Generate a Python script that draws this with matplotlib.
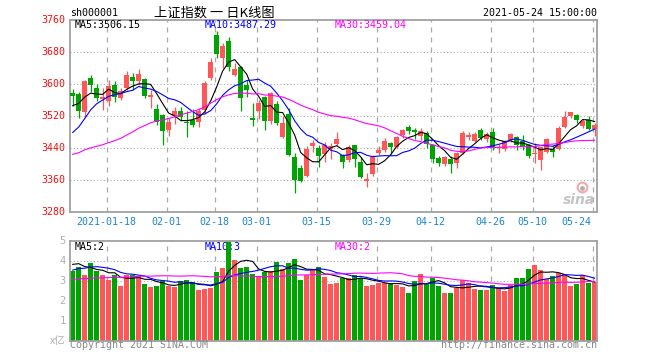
import matplotlib
matplotlib.use("Agg")
import matplotlib.pyplot as plt
import numpy as np
import pandas as pd

# SSE composite daily bars, 2021-01-08 .. 2021-05-24 (88 sessions)
# closes before the window, only used to seed the moving averages
warmup_close = [
    3408.31, 3391.76, 3451.94, 3449.38, 3442.14, 3444.58, 3416.60, 3410.18,
    3371.96, 3373.28, 3347.19, 3369.12, 3367.23, 3366.98, 3404.87, 3394.90,
    3420.57, 3356.78, 3382.32, 3363.11, 3396.56, 3397.29, 3379.04, 3414.45,
    3473.07, 3502.96, 3528.68, 3550.88, 3576.20,
]
warmup_vol = [
    2.9, 3.0, 3.3, 3.1, 2.9, 2.8, 2.9, 2.8, 2.9, 2.7, 2.6, 2.7, 2.6, 2.5, 2.7,
    2.8, 3.0, 3.1, 2.8, 2.7, 2.9, 3.1, 3.3, 3.3, 3.6, 3.5, 4.0, 4.1, 4.0,
]

opens = [
    3577, 3574, 3529, 3614, 3590, 3562, 3557, 3598, 3566, 3590,
    3618, 3608, 3612, 3567, 3537, 3523, 3484, 3519, 3533, 3506,
    3511, 3505, 3534, 3614, 3722, 3666, 3708, 3622, 3642, 3598,
    3516, 3533, 3567, 3507, 3549, 3467, 3525, 3418, 3391, 3369,
    3445, 3441, 3425, 3437, 3450, 3423, 3411, 3447, 3405, 3357,
    3375, 3428, 3435, 3452, 3443, 3472, 3493, 3485, 3470, 3477,
    3447, 3414, 3400, 3413, 3402, 3428, 3468, 3458, 3485, 3462,
    3480, 3439, 3437, 3460, 3468, 3458, 3447, 3424, 3410, 3431,
    3437, 3437, 3493, 3521, 3522, 3496, 3510, 3488,
]
highs = [
    3588, 3580, 3611, 3622, 3600, 3590, 3611, 3607, 3590, 3632,
    3627, 3637, 3614, 3584, 3551, 3525, 3515, 3543, 3542, 3533,
    3538, 3540, 3607, 3665, 3731.69, 3702, 3718, 3652, 3645, 3610,
    3552, 3560, 3570, 3580, 3557, 3521, 3539, 3428, 3397, 3445,
    3460, 3447, 3456, 3452, 3480, 3426, 3447, 3448, 3418, 3378,
    3423, 3446, 3464, 3456, 3470, 3488, 3497, 3490, 3491, 3483,
    3450, 3420, 3420, 3420, 3430, 3482, 3480, 3480, 3490, 3480,
    3490, 3450, 3460, 3478, 3470, 3472, 3450, 3452, 3443, 3465,
    3447, 3494, 3533, 3530, 3525, 3512, 3520, 3502,
]
lows = [
    3546, 3516, 3517, 3580, 3557, 3535, 3545, 3555, 3560, 3585,
    3586, 3598, 3565, 3540, 3497, 3447, 3469, 3500, 3508, 3467,
    3492, 3493, 3524, 3611, 3666, 3640, 3632, 3620, 3532, 3568,
    3494, 3512, 3485, 3500, 3497, 3465, 3419, 3328, 3354, 3367,
    3430, 3393, 3405, 3413, 3446, 3390, 3405, 3393, 3366, 3343,
    3370, 3423, 3430, 3425, 3440, 3466, 3474, 3462, 3460, 3440,
    3403, 3394, 3395, 3378, 3390, 3425, 3460, 3455, 3460, 3455,
    3435, 3428, 3432, 3455, 3435, 3436, 3415, 3402, 3385, 3428,
    3418, 3435, 3490, 3515, 3502, 3490, 3484, 3470,
]
closes = [
    3570.11, 3531.50, 3608.34, 3598.65, 3565.90, 3566.38, 3596.22, 3566.38, 3583.09, 3621.26,
    3606.75, 3624.24, 3569.43, 3573.34, 3505.18, 3483.07, 3505.28, 3533.68, 3517.31, 3501.86,
    3496.33, 3532.44, 3603.49, 3655.09, 3675.36, 3696.17, 3642.44, 3636.36, 3564.08, 3585.05,
    3509.08, 3551.40, 3508.59, 3576.90, 3503.49, 3501.99, 3421.41, 3359.29, 3357.74, 3436.83,
    3453.08, 3419.95, 3446.73, 3445.55, 3463.07, 3404.66, 3443.44, 3411.51, 3367.06, 3363.59,
    3418.33, 3435.30, 3456.68, 3441.91, 3466.33, 3484.39, 3482.48, 3479.63, 3482.56, 3450.68,
    3412.95, 3403.56, 3416.97, 3398.99, 3426.62, 3477.55, 3472.94, 3476.00, 3465.11, 3474.17,
    3441.17, 3442.61, 3457.07, 3474.90, 3446.86, 3441.28, 3418.87, 3427.99, 3441.85, 3462.75,
    3429.54, 3490.38, 3517.62, 3529.01, 3510.96, 3506.94, 3486.56, 3497.28,
]
# volume, 1e8 lots
volumes = [
    3.48, 3.68, 3.28, 3.87, 3.50, 3.28, 3.05, 3.28, 2.73, 3.28,
    3.28, 3.25, 2.82, 2.70, 2.73, 2.97, 2.73, 2.70, 3.00, 3.03,
    2.95, 2.53, 2.58, 2.63, 3.45, 3.62, 5.10, 4.02, 3.65, 3.70,
    3.35, 3.20, 3.43, 3.48, 3.93, 3.57, 3.90, 4.10, 3.03, 3.27,
    3.52, 3.68, 3.20, 2.85, 2.90, 3.15, 3.15, 3.30, 3.15, 2.73,
    2.80, 2.90, 2.90, 2.90, 2.80, 2.70, 2.40, 2.98, 3.35, 2.82,
    3.15, 2.73, 2.40, 2.40, 2.65, 3.02, 2.90, 2.60, 2.53, 2.53,
    2.77, 2.65, 2.48, 2.77, 3.13, 3.13, 3.60, 3.78, 3.53, 3.07,
    3.23, 3.40, 3.32, 2.73, 2.85, 3.27, 2.90, 2.93,
]

date_ticks = [6, 16, 24, 31, 41, 51, 60, 70, 77, 87]
date_labels = ["2021-01-18", "02-01", "02-18", "03-01", "03-15",
               "03-29", "04-12", "04-26", "05-10", "05-24"]
price_ticks = [3760, 3680, 3600, 3520, 3440, 3360, 3280]
vol_ticks = [5, 4, 3, 2, 1]

RED = "#ff5757"
GREEN = "#00a400"
FRAME = "#a0a0a0"
GRID = "#aaaaaa"
MONO = "DejaVu Sans Mono"

W, H = 660, 360
fig = plt.figure(figsize=(W / 100, H / 100), dpi=100)


def fx(px):
    return px / W


def fy(py):
    return 1 - py / H


ax = fig.add_axes([fx(70), fy(212), (597 - 70) / W, 192 / H])
axv = fig.add_axes([fx(70), fy(340.7), (597 - 70) / W, 100 / H])

o = np.array(opens, float)
h = np.array(highs, float)
l = np.array(lows, float)
c = np.array(closes, float)
v = np.array(volumes, float)
x = np.arange(len(c))
up = c > o
cols = np.where(up, RED, GREEN)

full_c = pd.Series(warmup_close + closes)
full_v = pd.Series(warmup_vol + volumes)
nw = len(warmup_close)
ma = {n: full_c.rolling(n).mean().to_numpy()[nw:] for n in (5, 10, 30)}
vma = {n: full_v.rolling(n).mean().to_numpy()[nw:] for n in (5, 10, 30)}

for a in (ax, axv):
    a.set_xlim(-0.45, 87.4)
    a.set_xticks([])
    a.set_yticks([])
    for s in a.spines.values():
        s.set_color(FRAME)
        s.set_linewidth(1.3)
    for t in date_ticks:
        a.axvline(t - 0.35, color=GRID, lw=0.9, ls=(0, (4, 4)), zorder=0)

# price panel
ax.set_ylim(3280, 3760)
for p in price_ticks[1:-1]:
    ax.axhline(p, color=GRID, lw=0.8, ls=(0, (1, 2)), zorder=0)

ax.vlines(x, l, h, colors=cols, lw=0.9, zorder=2)
body = np.maximum(np.abs(c - o), 1.0)
ax.bar(x, body, bottom=np.minimum(o, c), width=0.8, color=cols, zorder=3)

ax.plot(x, ma[5], color="black", lw=0.8, zorder=4)
ax.plot(x, ma[10], color="#0000ff", lw=0.8, zorder=4)
ax.plot(x, ma[30], color="#ff00ff", lw=0.8, zorder=4)

ytr = ax.get_yaxis_transform()
for p in price_ticks:
    ax.text(-0.008, p, str(p), transform=ytr, ha="right", va="center",
            color="#ee1111", family=MONO, fontsize=7.2, clip_on=False)

xtr = ax.get_xaxis_transform()
for t, lab in zip(date_ticks, date_labels):
    ha = "right" if t == date_ticks[-1] else "center"
    xx = t - 0.35 if ha == "center" else t - 0.55
    ax.text(xx, -0.05, lab, transform=xtr, ha=ha, va="center",
            color="#1a86d0", family=MONO, fontsize=7.2, clip_on=False)

# sina watermark
ax.text(0.997, 0.06, "sina", transform=ax.transAxes, ha="right", va="center",
        color="#c4c4c4", fontsize=10, fontweight="bold", style="italic")
ax.plot(0.972, 0.13, "o", ms=7, mfc="none", mec="#f2a8a8", mew=1.5,
        transform=ax.transAxes)
ax.plot(0.972, 0.125, "o", ms=2.5, color="#b0b0b0", transform=ax.transAxes)

# volume panel
axv.set_ylim(0, 5)
for p in (3, 4):
    axv.axhline(p, color=GRID, lw=0.8, ls=(0, (1, 2)), zorder=0)
axv.bar(x, v, width=0.8, color=cols, zorder=2)
axv.plot(x, vma[5], color="black", lw=0.8, zorder=4)
axv.plot(x, vma[10], color="#0000ff", lw=0.8, zorder=4)
axv.plot(x, vma[30], color="#ff00ff", lw=0.8, zorder=4)

vtr = axv.get_yaxis_transform()
for p in vol_ticks:
    axv.text(-0.008, p, str(p), transform=vtr, ha="right", va="center",
             color="#b0b0b0", family=MONO, fontsize=7.5, clip_on=False)
axv.text(-0.008, 0, "x亿", transform=vtr, ha="right", va="center",
         color="#b0b0b0", family=["Noto Sans CJK SC", "DejaVu Sans"],
         fontsize=7.5, clip_on=False)

# header
fig.text(fx(70), fy(13), "sh000001", ha="left", va="center",
         family=MONO, fontsize=7.2)
fig.text(fx(214), fy(13), "上证指数 一 日K线图", ha="center", va="center",
         family=["Noto Sans CJK SC", "DejaVu Sans"], fontsize=9.5)
fig.text(fx(597), fy(13), "2021-05-24 15:00:00", ha="right", va="center",
         family=MONO, fontsize=7.2)

# legends
fig.text(fx(75), fy(25.5), "MA5:3506.15", color="black", family=MONO,
         fontsize=7.2, va="center")
fig.text(fx(205), fy(25.5), "MA10:3487.29", color="#0000ff", family=MONO,
         fontsize=7.2, va="center")
fig.text(fx(335), fy(25.5), "MA30:3459.04", color="#ff00ff", family=MONO,
         fontsize=7.2, va="center")

axv.text(0.009, 0.935, "MA5:2", transform=axv.transAxes, color="black",
         family=MONO, fontsize=7.2, va="center", zorder=1)
axv.text(0.256, 0.935, "MA10:3", transform=axv.transAxes, color="#0000ff",
         family=MONO, fontsize=7.2, va="center", zorder=1)
axv.text(0.503, 0.935, "MA30:2", transform=axv.transAxes, color="#ff00ff",
         family=MONO, fontsize=7.2, va="center", zorder=1)

# footer
fig.text(fx(70), fy(345), "Copyright 2021 SINA.COM", color="#888888",
         family=MONO, fontsize=7.2, va="center")
fig.text(fx(597), fy(345), "http://finance.sina.com.cn", color="#888888",
         family=MONO, fontsize=7.2, va="center", ha="right")

fig.savefig("out.png", dpi=100)
